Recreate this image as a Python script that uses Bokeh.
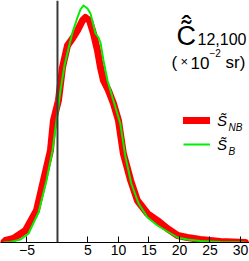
from bokeh.plotting import figure
from bokeh.models import Span, Label, Legend, LegendItem, FixedTicker, Range1d
from bokeh.embed import file_html
from bokeh.resources import INLINE

# ---- data (density in % per unit) ----
x_nb = [-8.85, -8.52, -7.21, -5.25, -3.44, -2.30, -1.15, -0.66, 0.16, 0.82, 1.64, 2.46,
        3.28, 4.10, 4.59, 5.25, 5.90, 6.56, 7.05, 7.54, 8.36, 9.18, 10.0, 10.8, 12.0,
        13.1, 14.75, 16.4, 18.0, 19.7, 21.3, 23.4, 26.7, 30.8]
y_nb = [0, 0.08, 0.16, 0.48, 1.28, 2.48, 3.68, 4.88, 5.68, 7.0, 7.88, 8.16,
        8.48, 8.88, 9.0, 8.88, 8.36, 7.68, 7.0, 6.48, 6.08, 5.56, 4.88, 3.56, 2.48,
        1.68, 1.16, 0.88, 0.56, 0.28, 0.2, 0.12, 0.04, 0]

x_b = [-8.85, -7.7, -6.07, -4.75, -3.11, -1.80, -0.82, -0.16, 0.49, 1.15, 1.80, 2.46,
       3.28, 3.77, 4.26, 4.92, 5.41, 6.23, 6.72, 7.05, 7.54, 8.20, 9.02, 10.3, 11.1,
       12.1, 13.3, 14.75, 16.4, 18.0, 19.7, 21.3, 23.4, 26.7, 30.8]
y_b = [0, 0.02, 0.12, 0.36, 1.2, 2.48, 3.68, 4.88, 6.08, 7.08, 7.76, 8.4,
       9.0, 9.32, 9.48, 9.36, 9.16, 8.36, 8.2, 8.0, 7.28, 6.48, 5.8, 4.76, 3.48,
       2.36, 1.56, 1.0, 0.68, 0.44, 0.2, 0.12, 0.06, 0.02, 0]

tick_values = [-5, 5, 10, 15, 20, 25, 30]
tick_texts = ["\u22125", "5", "10", "15", "20", "25", "30"]

FONT = "Liberation Sans"

p = figure(width=249, height=261, output_backend="svg", toolbar_location=None,
           x_range=Range1d(-9.34, 31.48), y_range=Range1d(0, 9.68),
           y_axis_location=None,
           min_border_left=0, min_border_right=0, min_border_top=0, min_border_bottom=19)
p.outline_line_color = None
p.grid.visible = False
p.background_fill_color = "white"

ax = p.xaxis[0]
ax.ticker = FixedTicker(ticks=tick_values, minor_ticks=[])
ax.major_label_overrides = {v: t for v, t in zip(tick_values, tick_texts)}
ax.major_tick_in = 6
ax.major_tick_out = 0
ax.major_tick_line_color = "black"
ax.major_tick_line_width = 1
ax.axis_line_color = "black"
ax.axis_line_width = 1.2
ax.major_label_standoff = 2
ax.major_label_text_font = FONT
ax.major_label_text_font_size = "14px"
ax.major_label_text_color = "black"

p.add_layout(Span(location=0, dimension="height", line_color="#3a3a3a", line_width=2))

r_nb = p.line(x_nb, y_nb, line_color="#ff0000", line_width=7, line_join="round", line_cap="round")
r_b = p.line(x_b, y_b, line_color="#00ee00", line_width=2, line_join="round")

legend = Legend(items=[LegendItem(label="S\u0303", renderers=[r_nb]),
                       LegendItem(label="S\u0303", renderers=[r_b])],
                location=(183, 88), orientation="vertical",
                glyph_width=27, glyph_height=20, label_height=20, label_width=10,
                spacing=4, padding=0, margin=0, label_standoff=7,
                border_line_color=None, background_fill_alpha=0,
                label_text_font=FONT, label_text_font_style="italic",
                label_text_font_size="15px", label_text_color="black")
p.add_layout(legend)


def lab(text, sx, sy, size, style="normal", align="left"):
    p.add_layout(Label(x=sx, y=sy, x_units="screen", y_units="screen", text=text,
                       text_font=FONT, text_font_size=size, text_font_style=style,
                       text_align=align, text_baseline="alphabetic", text_color="black"))

# legend subscripts
lab("NB", 228, 115, "10px", "italic")
lab("B", 228, 91, "10px", "italic")

# title
lab("C", 176, 207, "27px")
lab("\u02dc", 186, 212, "30px", align="center")
lab("\u02c6", 186, 217, "30px", align="center")
lab("12,100", 197, 204, "16px")
lab("(", 171, 180, "17px")
lab("\u00d7", 180, 181, "13px")
lab("10", 190, 180, "17px")
lab("\u22122", 209, 190, "10px")
lab("sr)", 225, 180, "17px")

open("out.html", "w").write(file_html(p, INLINE))
